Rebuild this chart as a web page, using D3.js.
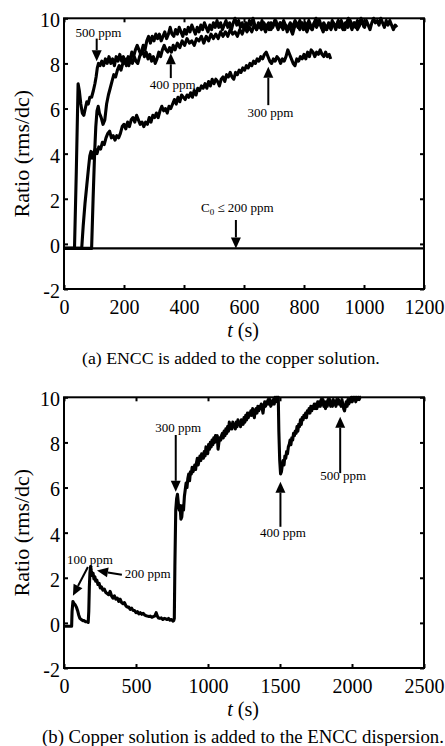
<!DOCTYPE html>
<html>
<head>
<meta charset="utf-8">
<script src="https://cdn.jsdelivr.net/npm/d3@7"></script>
<style>
body { margin: 0; background: #fff; }
svg { display: block; }
text { font-family: "Liberation Serif", "Times New Roman", serif; fill: #000; }
</style>
</head>
<body>
<svg id="chart" width="445" height="746"></svg>
<script>

// ---- panel (a): ENCC added to copper solution ----
var xTicksA = [0, 200, 400, 600, 800, 1000, 1200];
var yTicks = [-2, 0, 2, 4, 6, 8, 10];

var c500 = [[0,-0.2],[35,-0.2],[41,3.2],[47,7.1],[51,6.8],[56,6.2],[61,5.8],[66,5.7],[71,6.0],[76,6.3],[81,6.2],[86,6.5],[92,6.5],[98,6.8],[103,7.1],[107,7.4],[111,7.8],[115,8.0],[120,7.9],[126,8.1],[132,7.9],[138,8.2],[144,8.0],[150,8.3],[156,8.0],[162,8.2],[168,7.9],[174,8.3],[180,8.1],[186,8.4],[192,8.1],[198,8.3],[204,8.0],[210,8.2],[216,7.9],[222,8.2],[228,8.0],[234,8.3],[240,8.1],[246,8.0],[252,8.3],[258,8.5],[264,8.8],[270,8.6],[276,9.0],[282,9.2],[288,8.9],[294,9.2],[300,9.0],[306,9.3],[312,9.1],[318,9.3],[324,9.0],[330,9.2],[336,9.4],[342,9.1],[348,9.3],[354,9.6],[360,9.3],[366,9.2],[372,9.5],[378,9.3],[384,9.6],[390,9.4],[396,9.2],[402,9.5],[408,9.3],[414,9.6],[420,9.4],[426,9.7],[432,9.5],[438,9.3],[444,9.6],[450,9.4],[456,9.7],[462,9.5],[468,9.8],[474,9.6],[480,9.4],[486,9.7],[492,9.5],[498,9.8],[504,9.6],[510,9.9],[516,9.6],[522,9.8],[528,9.5],[534,9.7],[540,9.9],[546,9.6],[552,9.8],[558,9.5],[564,9.8],[570,10.0],[576,9.7],[582,9.9],[588,9.6],[594,9.8],[600,9.5],[606,9.8],[612,9.6],[618,9.9],[624,9.7],[630,10.0],[636,9.7],[642,9.5],[648,9.8],[654,9.6],[660,9.9],[666,9.6],[672,9.4],[678,9.7],[684,9.5],[690,9.8],[696,9.6],[702,9.9],[708,9.7],[714,9.5],[720,9.8],[726,9.6],[732,9.9],[738,9.7],[744,9.4],[750,9.7],[756,9.5],[762,9.3],[768,9.6],[774,9.8],[780,9.6],[786,9.9],[792,9.7],[798,9.5],[804,9.8],[810,9.6],[816,9.9],[822,9.7],[828,9.5],[834,9.8],[840,10.0],[846,9.7],[852,9.9],[858,9.6],[864,9.4],[870,9.7],[876,9.5],[882,9.8],[888,9.6],[894,9.9],[900,9.7],[906,9.5],[912,9.8],[918,9.6],[924,9.9],[930,9.7],[936,9.5],[942,9.8],[948,10.0],[954,9.7],[960,9.5],[966,9.8],[972,9.6],[978,9.9],[984,9.7],[990,10.0],[996,9.8],[1002,9.6],[1008,9.9],[1014,9.7],[1020,9.5],[1026,9.8],[1032,10.0],[1038,9.8],[1044,9.9],[1050,9.7],[1056,10.0],[1062,9.8],[1068,9.6],[1074,9.9],[1080,9.7],[1086,9.9],[1092,9.7],[1098,9.5],[1104,9.7],[1110,9.6]];

var c400 = [[0,-0.2],[92,-0.2],[97,2.0],[102,4.0],[106,5.2],[110,5.9],[114,6.1],[118,5.8],[124,5.6],[130,5.3],[136,5.5],[142,6.2],[148,6.6],[154,6.9],[160,7.2],[166,7.5],[172,7.4],[178,7.7],[184,7.9],[190,7.7],[196,8.0],[202,8.2],[208,7.9],[214,8.3],[220,8.1],[226,8.5],[232,8.3],[238,8.6],[244,8.8],[250,8.6],[256,8.4],[262,8.6],[268,8.3],[274,8.5],[280,8.2],[286,8.4],[292,8.1],[298,8.3],[304,8.0],[310,8.2],[316,8.5],[322,8.3],[328,8.6],[334,8.8],[340,8.6],[346,8.5],[352,8.7],[358,8.5],[364,8.8],[370,8.6],[378,8.9],[386,8.7],[394,9.0],[402,8.8],[410,9.1],[418,8.9],[426,9.0],[434,8.8],[442,9.1],[450,9.0],[458,9.2],[466,8.9],[474,9.2],[482,9.0],[490,9.3],[498,9.1],[506,9.3],[514,9.1],[522,9.4],[530,9.2],[538,9.4],[546,9.2],[554,9.5],[562,9.3],[570,9.4],[578,9.2],[586,9.5],[594,9.3],[602,9.6],[610,9.4],[618,9.6],[626,9.4],[634,9.7],[642,9.5],[650,9.7],[658,9.5],[666,9.8],[674,9.6],[682,9.8],[690,9.5],[698,9.7],[706,9.9],[714,9.6],[722,9.8],[730,9.5],[738,9.7],[746,9.5],[754,9.8],[762,9.6],[770,9.9],[778,9.7],[786,9.5],[794,9.8],[802,9.6],[810,9.4],[818,9.7],[826,9.5],[834,9.8],[842,9.6],[850,9.9],[858,9.6],[866,9.8],[874,9.5],[882,9.7],[890,9.5],[898,9.8],[906,9.6],[914,9.9],[922,9.7],[930,9.5],[938,9.8],[946,9.6],[954,9.9],[962,9.6],[970,9.8],[978,9.5],[986,9.7],[994,9.9],[1000,9.6]];

var c300 = [[0,-0.2],[59,-0.2],[64,0.8],[70,1.8],[76,2.6],[82,3.4],[86,3.9],[90,4.1],[94,3.8],[98,4.0],[104,4.2],[110,4.0],[116,4.3],[122,4.2],[128,4.5],[134,4.4],[140,4.7],[146,4.9],[152,5.0],[158,4.7],[164,4.8],[170,4.6],[176,4.8],[182,4.7],[188,4.9],[194,5.2],[200,5.3],[206,5.1],[212,5.4],[218,5.2],[224,5.5],[230,5.6],[236,5.4],[242,5.7],[248,5.5],[254,5.3],[260,5.4],[266,5.2],[272,5.4],[278,5.3],[284,5.6],[290,5.4],[296,5.7],[302,5.6],[308,5.8],[314,5.6],[320,5.9],[326,6.1],[332,5.9],[338,6.0],[344,5.8],[350,6.1],[356,6.0],[362,6.2],[368,6.4],[374,6.2],[380,6.5],[386,6.3],[392,6.6],[398,6.5],[404,6.4],[410,6.6],[416,6.5],[422,6.7],[428,6.5],[434,6.8],[440,6.6],[446,6.9],[452,6.8],[458,7.0],[464,6.9],[470,7.1],[476,6.9],[482,7.2],[488,7.0],[494,7.3],[500,7.1],[506,7.3],[512,7.2],[518,7.0],[524,7.3],[530,7.4],[536,7.2],[542,7.5],[548,7.4],[554,7.6],[560,7.4],[566,7.3],[572,7.6],[578,7.5],[584,7.7],[590,7.6],[596,7.8],[602,7.7],[608,7.9],[614,7.8],[620,8.0],[626,7.9],[632,8.1],[638,8.0],[644,8.2],[650,8.1],[656,8.3],[662,8.2],[668,8.4],[674,8.5],[680,8.3],[686,8.1],[692,8.0],[698,8.2],[704,8.1],[710,8.3],[716,8.2],[722,8.0],[728,8.2],[734,8.1],[740,8.3],[746,8.6],[752,8.4],[758,8.2],[764,8.0],[770,7.9],[776,8.2],[782,8.1],[788,8.3],[794,8.2],[800,8.4],[806,8.2],[812,8.5],[818,8.3],[824,8.6],[830,8.5],[836,8.3],[842,8.5],[848,8.4],[854,8.6],[860,8.4],[866,8.3],[872,8.5],[878,8.3],[884,8.4],[889,8.2]];

var c200 = [[0,-0.2],[1200,-0.2]];

// annotations, in data units: label anchor, arrow start, arrow tip
var notesA = [
  { text: "500 ppm", at: [115, 9.16], from: [109, 9.1], to: [109, 8.1] },
  { text: "400 ppm", at: [362, 6.86], from: [356, 7.35], to: [356, 8.45] },
  { text: "300 ppm", at: [688, 5.63], from: [681, 6.15], to: [681, 7.85] },
  { text: "C0", at: [578, 1.43], from: [573, 1.06], to: [573, -0.2] }
];

// ---- panel (b): copper solution added to ENCC dispersion ----
var xTicksB = [0, 500, 1000, 1500, 2000, 2500];

var cB = [[0,-0.15],[53,-0.15],[56,0.5],[62,0.95],[70,0.85],[78,0.8],[86,0.7],[94,0.55],[102,0.35],[110,0.2],[120,0.15],[130,0.1],[140,0.1],[150,0.05],[160,0.05],[168,0.02],[172,0.5],[176,1.6],[180,2.2],[185,2.5],[190,2.3],[196,2.1],[202,2.2],[208,1.95],[214,2.05],[220,1.85],[228,1.9],[236,1.7],[244,1.75],[252,1.55],[260,1.6],[270,1.45],[280,1.5],[290,1.35],[300,1.3],[310,1.25],[320,1.4],[330,1.2],[340,1.1],[350,1.2],[360,1.05],[370,1.1],[380,0.95],[390,1.05],[400,0.9],[410,0.85],[420,0.9],[430,0.75],[440,0.7],[450,0.7],[460,0.6],[470,0.65],[480,0.55],[490,0.55],[500,0.45],[510,0.5],[520,0.4],[530,0.45],[540,0.38],[550,0.42],[560,0.35],[570,0.32],[580,0.3],[590,0.28],[600,0.3],[610,0.25],[620,0.28],[630,0.3],[640,0.45],[648,0.3],[656,0.22],[666,0.2],[676,0.22],[686,0.15],[696,0.2],[706,0.18],[716,0.15],[726,0.2],[736,0.12],[746,0.15],[756,0.08],[762,0.1],[766,0.2],[770,2.5],[776,5.0],[782,5.5],[788,5.7],[794,5.3],[800,5.0],[806,5.2],[812,4.6],[818,4.7],[824,5.2],[830,5.0],[836,5.6],[842,5.9],[848,6.2],[854,6.0],[860,6.4],[866,6.6],[872,6.3],[878,6.7],[884,6.6],[890,6.9],[896,6.7],[902,6.8],[908,7.0],[914,6.8],[920,7.1],[926,7.3],[932,7.0],[938,7.2],[944,7.4],[950,7.2],[956,7.5],[962,7.4],[968,7.3],[974,7.6],[980,7.4],[986,7.8],[992,7.6],[998,7.5],[1004,7.9],[1010,7.7],[1016,8.0],[1022,7.8],[1028,8.1],[1034,7.9],[1040,8.2],[1046,8.0],[1052,8.3],[1058,8.2],[1064,8.3],[1070,7.7],[1076,8.0],[1082,8.2],[1088,8.1],[1094,8.3],[1100,8.4],[1106,8.2],[1112,8.5],[1118,8.3],[1124,8.6],[1130,8.4],[1136,8.7],[1142,8.5],[1148,8.9],[1154,8.6],[1160,8.8],[1166,8.6],[1172,8.9],[1178,8.7],[1184,8.8],[1190,8.6],[1196,8.9],[1202,8.7],[1208,9.0],[1214,8.8],[1220,8.9],[1226,8.7],[1232,9.0],[1238,8.9],[1244,8.8],[1250,9.1],[1256,8.9],[1262,9.2],[1268,9.0],[1274,9.3],[1280,9.1],[1286,9.3],[1292,9.2],[1298,9.4],[1304,9.2],[1310,9.5],[1316,9.3],[1322,9.1],[1328,9.4],[1334,9.5],[1340,9.3],[1346,9.6],[1352,9.4],[1358,9.6],[1364,9.5],[1370,9.7],[1376,9.5],[1382,9.3],[1388,9.6],[1394,9.8],[1400,9.6],[1406,9.8],[1412,9.7],[1418,9.9],[1424,9.7],[1430,9.9],[1436,9.6],[1442,9.8],[1448,9.7],[1454,9.9],[1460,9.7],[1466,10.0],[1472,9.8],[1478,10.0],[1484,9.9],[1488,10.0],[1492,8.5],[1498,7.2],[1504,6.6],[1510,6.7],[1516,7.0],[1522,7.2],[1528,7.0],[1534,7.4],[1540,7.3],[1546,7.6],[1552,7.5],[1558,7.8],[1564,7.9],[1570,8.1],[1576,7.9],[1582,8.2],[1588,8.1],[1594,8.4],[1600,8.3],[1606,8.5],[1612,8.4],[1618,8.7],[1624,8.5],[1630,8.8],[1636,8.7],[1642,9.0],[1648,8.8],[1654,9.1],[1660,9.0],[1666,9.2],[1672,9.1],[1678,9.3],[1684,9.1],[1690,9.4],[1696,9.3],[1702,9.5],[1708,9.3],[1714,9.6],[1720,9.4],[1726,9.6],[1732,9.5],[1738,9.7],[1744,9.5],[1750,9.7],[1756,9.5],[1762,9.8],[1768,9.6],[1774,9.8],[1780,9.6],[1786,9.9],[1792,9.7],[1798,9.9],[1804,9.6],[1810,9.8],[1816,9.5],[1822,9.8],[1828,9.6],[1834,9.9],[1840,9.7],[1846,9.9],[1852,9.6],[1858,9.8],[1864,9.6],[1870,9.9],[1876,9.7],[1882,9.8],[1888,9.6],[1894,9.9],[1900,9.7],[1906,9.9],[1912,9.7],[1918,9.8],[1924,9.6],[1930,9.9],[1936,9.7],[1942,9.5],[1948,9.4],[1954,9.6],[1960,9.8],[1966,9.6],[1972,9.9],[1978,9.7],[1984,9.9],[1990,9.8],[1996,10.0],[2002,9.8],[2008,10.0],[2014,9.9],[2020,10.0],[2026,9.8],[2032,10.0],[2038,9.9],[2044,10.0],[2050,9.9],[2056,10.0],[2062,10.0]];

var notesB = [
  { text: "300 ppm", at: [793, 8.47], from: [776, 8.33], to: [776, 5.81] },
  { text: "400 ppm", at: [1520, 3.82], from: [1503, 4.26], to: [1503, 6.26] },
  { text: "500 ppm", at: [1939, 6.33], from: [1918, 6.64], to: [1918, 9.14] },
  { text: "100 ppm", at: [180, 2.59], from: [166, 2.48], to: [62, 1.2] },
  { text: "200 ppm", at: [422, 1.98], anchor: "start", from: [402, 2.13], to: [229, 2.32] }
];


var svg = d3.select("#chart");
var left = 64, right = 424;

function drawArrow(g, x, y, note) {
	const p0 = [x(note.from[0]), y(note.from[1])];
	const p1 = [x(note.to[0]), y(note.to[1])];
	const dx = p1[0] - p0[0], dy = p1[1] - p0[1];
	const len = Math.sqrt(dx * dx + dy * dy);
	const ux = dx / len, uy = dy / len;
	const headL = 11, headW = 5;
	const bx = p1[0] - ux * headL, by = p1[1] - uy * headL;
	g.append("line")
		.attr("x1", p0[0]).attr("y1", p0[1])
		.attr("x2", bx).attr("y2", by)
		.attr("stroke", "#000").attr("stroke-width", 2);
	g.append("path")
		.attr("d", `M${p1[0]},${p1[1]} L${bx - uy * headW},${by + ux * headW} L${bx + uy * headW},${by - ux * headW} Z`)
		.attr("fill", "#000");
}

function drawPanel(opts) {
	const g = svg.append("g");
	const x = d3.scaleLinear().domain(opts.xDomain).range([left, right]);
	const y = d3.scaleLinear().domain([-2, 10]).range([opts.bottom, opts.top]);

	const line = d3.line().x(d => x(d[0])).y(d => y(d[1]));

	for (let s of opts.series) {
		g.append("path")
			.datum(s.data)
			.attr("d", line)
			.attr("fill", "none")
			.attr("stroke", "#000")
			.attr("stroke-width", s.width)
			.attr("stroke-linejoin", "round");
	}

	// axes with inward ticks on all four sides
	const bottomAxis = g.append("g")
		.attr("transform", `translate(0,${opts.bottom})`)
		.call(d3.axisBottom(x).tickValues(opts.xTicks).tickSize(-4).tickSizeOuter(0).tickPadding(11).tickFormat(d => String(d)));
	const leftAxis = g.append("g")
		.attr("transform", `translate(${left},0)`)
		.call(d3.axisLeft(y).tickValues(yTicks).tickSize(-4).tickSizeOuter(0).tickPadding(4).tickFormat(d => String(d)));
	const topAxis = g.append("g")
		.attr("transform", `translate(0,${opts.top})`)
		.call(d3.axisTop(x).tickValues(opts.xTicks).tickSize(-4).tickSizeOuter(0).tickFormat(""));
	const rightAxis = g.append("g")
		.attr("transform", `translate(${right},0)`)
		.call(d3.axisRight(y).tickValues(yTicks).tickSize(-4).tickSizeOuter(0).tickFormat(""));

	for (let ax of [bottomAxis, leftAxis, topAxis, rightAxis]) {
		ax.select(".domain").remove();
		ax.selectAll(".tick line").attr("stroke", "#000").attr("stroke-width", 2);
		ax.selectAll(".tick text")
			.attr("fill", "#000")
			.attr("font-family", "'Liberation Serif', 'Times New Roman', serif")
			.attr("font-size", 20);
	}
	leftAxis.selectAll(".tick text").attr("dy", "0.42em");

	g.append("rect")
		.attr("x", left).attr("y", opts.top)
		.attr("width", right - left).attr("height", opts.bottom - opts.top)
		.attr("fill", "none").attr("stroke", "#000").attr("stroke-width", 2);

	// annotations
	for (let note of opts.notes) {
		drawArrow(g, x, y, note);
		const t = g.append("text")
			.attr("x", x(note.at[0]))
			.attr("y", y(note.at[1]))
			.attr("text-anchor", note.anchor || "middle")
			.attr("font-size", 13);
		if (note.text == "C0") {
			t.append("tspan").text("C");
			t.append("tspan").attr("font-size", 9).attr("dy", 3).text("0");
			t.append("tspan").attr("dy", -3).text(" \u2264 200 ppm");
		} else {
			t.text(note.text);
		}
	}

	// axis titles
	g.append("text")
		.attr("transform", `translate(28.5,${(opts.top + opts.bottom) / 2}) rotate(-90)`)
		.attr("text-anchor", "middle")
		.attr("font-size", 22)
		.text("Ratio (rms/dc)");

	const xt = g.append("text")
		.attr("x", (left + right) / 2 - 1)
		.attr("y", opts.bottom + 48)
		.attr("text-anchor", "middle")
		.attr("font-size", 20);
	xt.append("tspan").attr("font-style", "italic").text("t");
	xt.append("tspan").text(" (s)");

	// caption, fitted to the width it has in the figure
	const cap = g.append("text")
		.attr("x", opts.capX)
		.attr("y", opts.capY)
		.attr("font-size", 17)
		.text(opts.caption);
	const w = cap.node().getComputedTextLength();
	cap.attr("font-size", 17 * opts.capW / w);
}

drawPanel({
	xDomain: [0, 1200], xTicks: xTicksA, top: 18.3, bottom: 289,
	series: [
		{ data: c200, width: 2.2 },
		{ data: c300, width: 3.1 },
		{ data: c400, width: 3.1 },
		{ data: c500, width: 3.1 }
	],
	notes: notesA,
	caption: "(a) ENCC is added to the copper solution.",
	capX: 82, capY: 364, capW: 298
});

drawPanel({
	xDomain: [0, 2500], xTicks: xTicksB, top: 397.3, bottom: 668,
	series: [{ data: cB, width: 3.1 }],
	notes: notesB,
	caption: "(b) Copper solution is added to the ENCC dispersion.",
	capX: 42, capY: 743, capW: 402
});

</script>
</body>
</html>
